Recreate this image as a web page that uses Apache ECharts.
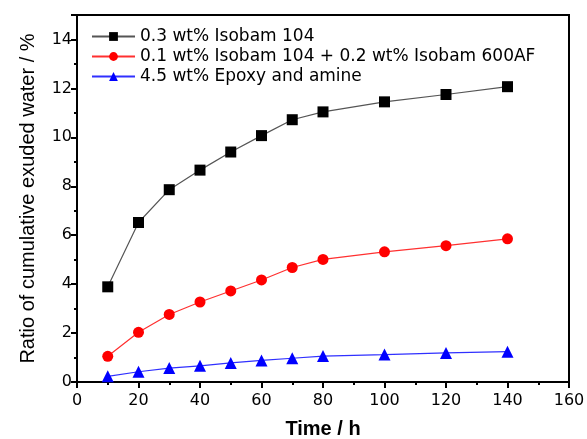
<!DOCTYPE html>
<html><head><meta charset="utf-8">
<script src="https://cdn.jsdelivr.net/npm/echarts@6/dist/echarts.min.js"></script>
<style>html,body{margin:0;padding:0;background:#fff}#c{width:587px;height:439px}</style>
</head><body><div id="c"></div>
<script>
var times = [10, 20, 30, 40, 50, 60, 70, 80, 100, 120, 140];
var isobam104 = [3.89, 6.52, 7.86, 8.66, 9.40, 10.07, 10.72, 11.04, 11.45, 11.75, 12.07];
var isobamMix = [1.05, 2.03, 2.76, 3.27, 3.72, 4.17, 4.68, 5.01, 5.32, 5.57, 5.85];
var epoxyAmine = [0.23, 0.42, 0.57, 0.66, 0.78, 0.88, 0.97, 1.06, 1.12, 1.19, 1.24];
var seriesNames = ['0.3 wt% Isobam 104', '0.1 wt% Isobam 104 + 0.2 wt% Isobam 600AF', '4.5 wt% Epoxy and amine'];
var xLabel = 'Time / h';
var yLabel = 'Ratio of cumulative exuded water / %';

function pairs(v){ return times.map(function(t,i){ return [t, v[i]]; }); }
var font = 'Liberation Sans, Arial, sans-serif';
var wide = 'DejaVu Sans, sans-serif';
var chart = echarts.init(document.getElementById('c'));
chart.setOption({
  animation: false,
  grid: { left: 77, right: 18, top: 15, bottom: 57, show: true, borderColor: '#000', borderWidth: 2,
    backgroundColor: 'transparent', containLabel: false, outerBoundsMode: 'none' },
  legend: {
    orient: 'vertical', left: 86, top: 23, itemWidth: 43, itemHeight: 11, itemGap: 3,
    textStyle: { fontFamily: wide, fontSize: 17, color: '#000' },
    data: seriesNames
  },
  xAxis: {
    type: 'value', min: 0, max: 160, interval: 20,
    name: xLabel, nameLocation: 'middle', nameGap: 37,
    nameTextStyle: { fontFamily: font, fontSize: 20, fontWeight: 'bold', color: '#000' },
    axisLine: { show: true, lineStyle: { color: '#000', width: 2 } },
    axisTick: { show: true, length: 6, lineStyle: { color: '#000', width: 2 } },
    minorTick: { show: true, splitNumber: 2, length: 3, lineStyle: { color: '#000', width: 2 } },
    splitLine: { show: false },
    axisLabel: { fontFamily: wide, fontSize: 16, color: '#000', margin: 11 }
  },
  yAxis: {
    type: 'value', min: 0, max: 15, interval: 2,
    name: yLabel, nameLocation: 'middle', nameGap: 39,
    nameTextStyle: { fontFamily: font, fontSize: 20, color: '#000' },
    axisLine: { show: true, lineStyle: { color: '#000', width: 2 } },
    axisTick: { show: true, length: 6, lineStyle: { color: '#000', width: 2 } },
    minorTick: { show: true, splitNumber: 2, length: 3, lineStyle: { color: '#000', width: 2 } },
    splitLine: { show: false },
    axisLabel: { fontFamily: wide, fontSize: 16, color: '#000', margin: 5,
      formatter: function(v){ return v % 2 === 0 && v <= 14 ? String(v) : ''; } }
  },
  series: [
    { name: seriesNames[0], type: 'line', data: pairs(isobam104), symbol: 'rect', symbolSize: 11,
      itemStyle: { color: '#000' }, lineStyle: { color: '#555', width: 1.2 } },
    { name: seriesNames[1], type: 'line', data: pairs(isobamMix), symbol: 'circle', symbolSize: 11,
      itemStyle: { color: '#ff0000' }, lineStyle: { color: '#ff3030', width: 1.2 } },
    { name: seriesNames[2], type: 'line', data: pairs(epoxyAmine), symbol: 'triangle', symbolSize: 12,
      itemStyle: { color: '#0000ff' }, lineStyle: { color: '#3030ff', width: 1.2 } }
  ]
});
</script></body></html>
